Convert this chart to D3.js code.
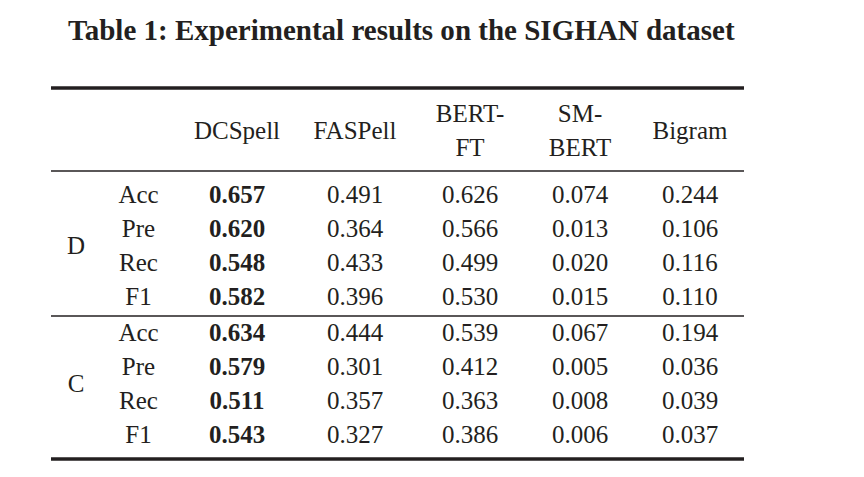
<!DOCTYPE html>
<html>
<head>
<meta charset="utf-8">
<script src="https://cdn.jsdelivr.net/npm/d3@7/dist/d3.min.js"></script>
<style>
  html, body { margin: 0; padding: 0; background: #fff; }
  svg { display: block; }
</style>
</head>
<body>
<svg id="chart" width="864" height="477"></svg>
<script>
// ---- Data ----
const title = "Table 1: Experimental results on the SIGHAN dataset";
const models = ["DCSpell", "FASPell", "BERT-FT", "SM-BERT", "Bigram"];
const modelHeaderLines = [["DCSpell"], ["FASPell"], ["BERT-", "FT"], ["SM-", "BERT"], ["Bigram"]];
const metrics = ["Acc", "Pre", "Rec", "F1"];
const groups = ["D", "C"];
const bestModel = "DCSpell";

const dDCSpell = [0.657, 0.620, 0.548, 0.582];
const dFASPell = [0.491, 0.364, 0.433, 0.396];
const dBERTFT  = [0.626, 0.566, 0.499, 0.530];
const dSMBERT  = [0.074, 0.013, 0.020, 0.015];
const dBigram  = [0.244, 0.106, 0.116, 0.110];

const cDCSpell = [0.634, 0.579, 0.511, 0.543];
const cFASPell = [0.444, 0.301, 0.357, 0.327];
const cBERTFT  = [0.539, 0.412, 0.363, 0.386];
const cSMBERT  = [0.067, 0.005, 0.008, 0.006];
const cBigram  = [0.194, 0.036, 0.039, 0.037];

const groupValues = {
  D: [dDCSpell, dFASPell, dBERTFT, dSMBERT, dBigram],
  C: [cDCSpell, cFASPell, cBERTFT, cSMBERT, cBigram]
};

// ---- Layout ----
const svg = d3.select("#chart");
const font = "'Liberation Serif', 'Times New Roman', serif";
const ink = "#231f20";
const fs = 25;

const colX = d3.scaleOrdinal()
  .domain(["group", "metric"].concat(models))
  .range([76, 138.5, 237, 355, 470, 580, 690]);

const tableLeft = 51, tableRight = 744;
const rowStep = 34;

const rowY = {
  D: d3.scalePoint().domain(metrics).range([203, 203 + 3 * rowStep]),
  C: d3.scalePoint().domain(metrics).range([341, 341 + 3 * rowStep])
};

// Title
const t = svg.append("text")
  .attr("x", 68).attr("y", 40)
  .attr("font-family", font).attr("font-weight", "bold")
  .attr("font-size", 27).attr("fill", ink)
  .text(title);
const tw = t.node().getComputedTextLength();
t.attr("font-size", 27 * 667 / tw);

// Rules
function rule(y, w) {
  svg.append("line")
    .attr("x1", tableLeft).attr("x2", tableRight)
    .attr("y1", y).attr("y2", y)
    .attr("stroke", ink).attr("stroke-width", w);
}
rule(88, 3.5);
rule(171, 1.6);
rule(316, 1.6);
rule(459, 3.5);

// Header
const headerMid = 139;
models.forEach((m, i) => {
  const lines = modelHeaderLines[i];
  lines.forEach((ln, j) => {
    const y = headerMid + (j - (lines.length - 1) / 2) * rowStep;
    svg.append("text")
      .attr("x", colX(m)).attr("y", y)
      .attr("text-anchor", "middle")
      .attr("font-family", font).attr("font-size", fs).attr("fill", ink)
      .text(ln);
  });
});

// Body
groups.forEach(g => {
  const ys = rowY[g];
  const midY = (ys(metrics[0]) + ys(metrics[metrics.length - 1])) / 2;
  svg.append("text")
    .attr("x", colX("group")).attr("y", midY)
    .attr("text-anchor", "middle")
    .attr("font-family", font).attr("font-size", fs).attr("fill", ink)
    .text(g);
  metrics.forEach((met, r) => {
    svg.append("text")
      .attr("x", colX("metric")).attr("y", ys(met))
      .attr("text-anchor", "middle")
      .attr("font-family", font).attr("font-size", fs).attr("fill", ink)
      .text(met);
    models.forEach((m, c) => {
      svg.append("text")
        .attr("x", colX(m)).attr("y", ys(met))
        .attr("text-anchor", "middle")
        .attr("font-family", font).attr("font-size", fs).attr("fill", ink)
        .attr("font-weight", m === bestModel ? "bold" : "normal")
        .text(d3.format(".3f")(groupValues[g][c][r]));
    });
  });
});
</script>
</body>
</html>
